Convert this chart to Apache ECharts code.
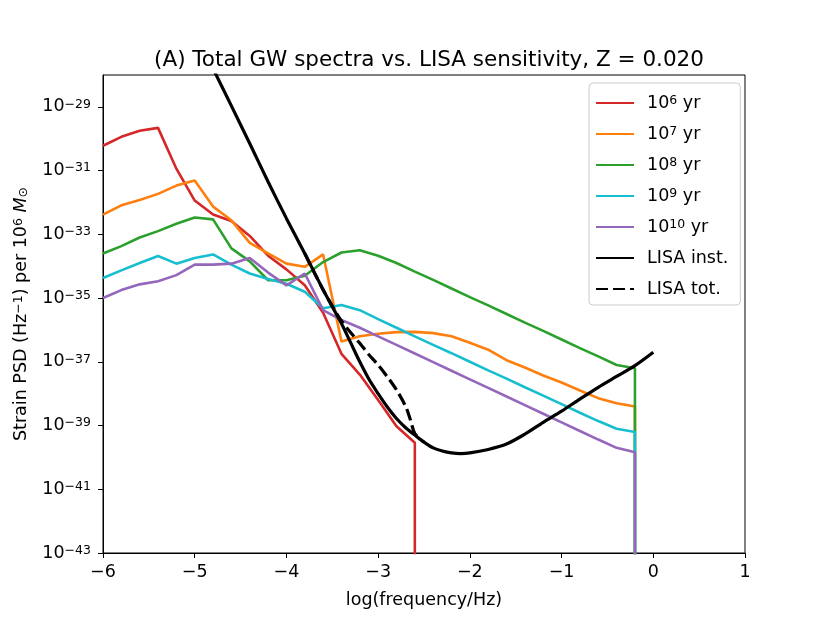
<!DOCTYPE html>
<html>
<head>
<meta charset="utf-8">
<script src="https://cdn.jsdelivr.net/npm/echarts@6/dist/echarts.min.js"></script>
<style>
html,body{margin:0;padding:0;background:#fff;}
#chart{width:830px;height:623px;}
</style>
</head>
<body>
<div id="chart"></div>
<script>
// ---- data (log10 values) ----
const FREQ = [-6.0,-5.8,-5.6,-5.4,-5.2,-5.0,-4.8,-4.6,-4.4,-4.2,-4.0,-3.8,-3.6,-3.4,-3.2,-3.0,-2.8,-2.6,-2.4,-2.2,-2.0,-1.8,-1.6,-1.4,-1.2,-1.0,-0.8,-0.6,-0.4,-0.2];
const FLOOR = -50; // spectrum drops to zero (below axis)
const AGE_1E6  = [-30.22,-29.94,-29.75,-29.66,-30.94,-31.94,-32.38,-32.58,-33.05,-33.67,-34.1,-34.6,-35.46,-36.75,-37.4,-38.2,-39.02,-39.54];
const AGE_1E7  = [-32.38,-32.09,-31.92,-31.73,-31.47,-31.31,-32.13,-32.56,-33.27,-33.6,-33.92,-34.02,-33.63,-36.36,-36.2,-36.12,-36.07,-36.06,-36.1,-36.2,-36.4,-36.62,-36.95,-37.18,-37.43,-37.65,-37.9,-38.14,-38.3,-38.4];
const AGE_1E8  = [-33.6,-33.37,-33.1,-32.9,-32.67,-32.47,-32.53,-33.44,-33.85,-34.44,-34.44,-34.3,-33.87,-33.57,-33.5,-33.67,-33.9,-34.17,-34.43,-34.7,-34.97,-35.23,-35.5,-35.77,-36.03,-36.3,-36.57,-36.83,-37.1,-37.2];
const AGE_1E9  = [-34.37,-34.13,-33.9,-33.68,-33.92,-33.74,-33.63,-33.95,-34.23,-34.4,-34.55,-34.8,-35.32,-35.22,-35.38,-35.66,-35.93,-36.2,-36.47,-36.73,-37.0,-37.27,-37.53,-37.8,-38.06,-38.33,-38.6,-38.86,-39.1,-39.2];
const AGE_1E10 = [-35.0,-34.75,-34.57,-34.47,-34.28,-33.95,-33.95,-33.92,-33.74,-34.2,-34.6,-34.23,-35.38,-35.69,-35.93,-36.2,-36.47,-36.74,-37.01,-37.28,-37.55,-37.82,-38.09,-38.36,-38.63,-38.9,-39.17,-39.44,-39.7,-39.84];
const LISA_F    = [-4.8,-4.6,-4.4,-4.2,-4.0,-3.8,-3.6,-3.5,-3.4,-3.3,-3.2,-3.1,-3.0,-2.9,-2.8,-2.7,-2.6,-2.5,-2.4,-2.3,-2.2,-2.1,-2.0,-1.8,-1.6,-1.4,-1.2,-1.0,-0.8,-0.6,-0.4,-0.2,0.0];
const LISA_INST = [-27.8,-28.97,-30.15,-31.35,-32.5,-33.6,-34.74,-35.27,-35.8,-36.4,-37.0,-37.55,-38.0,-38.42,-38.78,-39.07,-39.3,-39.52,-39.7,-39.8,-39.86,-39.88,-39.86,-39.75,-39.58,-39.27,-38.9,-38.55,-38.17,-37.8,-37.46,-37.12,-36.7];
const LISA_TOT_F = [-3.8,-3.7,-3.6,-3.5,-3.4,-3.3,-3.2,-3.1,-3.0,-2.9,-2.8,-2.7,-2.65,-2.6,-2.5];
const LISA_TOT   = [-33.6,-34.18,-34.74,-35.25,-35.72,-36.08,-36.42,-36.78,-37.1,-37.47,-37.88,-38.4,-38.8,-39.25,-39.52];
const X_TICKS = [-6,-5,-4,-3,-2,-1,0,1];
const Y_TICKS = [-43,-41,-39,-37,-35,-33,-31,-29];
const SERIES_NAMES = ['1e6','1e7','1e8','1e9','1e10','LISA inst.','LISA tot.'];
const LEGEND_EXP = {'1e6':'6','1e7':'7','1e8':'8','1e9':'9','1e10':'10'};

const FONT = 'DejaVu Sans';
const FS = 17.5, SUP = 12.5;
function pairs(xs, ys, dropToFloor) {
  const out = ys.map((y, i) => [xs[i], y]);
  if (dropToFloor) out.push([xs[ys.length - 1], FLOOR]);
  return out;
}
const minus = v => (v < 0 ? '\u2212' + Math.abs(v) : String(v));
const richBase = {
  b: {fontFamily: FONT, fontSize: FS, color: '#000', lineHeight: 18},
  s: {fontFamily: FONT, fontSize: SUP, color: '#000', lineHeight: 7, verticalAlign: 'top'},
  i: {fontFamily: FONT, fontSize: FS, color: '#000', lineHeight: 18, fontStyle: 'italic'},
  o: {fontFamily: FONT, fontSize: SUP, color: '#000', lineHeight: 8, verticalAlign: 'bottom'}
};

const chart = echarts.init(document.getElementById('chart'), null, {renderer: 'canvas'});
const colors = ['#d62728','#ff7f0e','#2ca02c','#17becf','#9467bd','#000000','#000000'];
const ageData = [AGE_1E6, AGE_1E7, AGE_1E8, AGE_1E9, AGE_1E10];

const series = ageData.map((vals, k) => ({
  name: SERIES_NAMES[k],
  type: 'line',
  data: pairs(FREQ, vals, true),
  symbol: 'none',
  clip: true,
  lineStyle: {color: colors[k], width: 2.6},
  itemStyle: {color: colors[k]},
  z: 2 + k
}));
series.push({
  name: 'LISA inst.', type: 'line', data: pairs(LISA_F, LISA_INST, false),
  symbol: 'none', clip: true, smooth: 0.3,
  lineStyle: {color: '#000', width: 3.2}, itemStyle: {color: '#000'}, z: 8
});
series.push({
  name: 'LISA tot.', type: 'line', data: pairs(LISA_TOT_F, LISA_TOT, false),
  symbol: 'none', clip: true, smooth: 0.3,
  lineStyle: {color: '#000', width: 3.2, type: [12, 5]}, itemStyle: {color: '#000'}, z: 9
});

chart.setOption({
  animation: false,
  backgroundColor: '#fff',
  title: {
    text: '(A) Total GW spectra vs. LISA sensitivity, Z = 0.020',
    left: 424, top: 44, textAlign: 'center',
    textStyle: {fontFamily: FONT, fontSize: 21.5, fontWeight: 'normal', color: '#000'}
  },
  grid: {left: 103, right: 85, top: 75, bottom: 70, show: true, borderColor: '#000', borderWidth: 1, backgroundColor: 'transparent'},
  legend: {
    orient: 'vertical', left: 589, top: 83,
    data: SERIES_NAMES,
    itemWidth: 38, itemHeight: 18, itemGap: 13,
    padding: [11, 12, 7, 6],
    borderColor: '#cccccc', borderWidth: 1, borderRadius: 4,
    backgroundColor: 'rgba(255,255,255,0.8)',
    itemStyle: {color: 'rgba(0,0,0,0)', borderColor: 'rgba(0,0,0,0)', borderWidth: 0, opacity: 0},
    formatter: function (name) {
      if (LEGEND_EXP[name]) return '{b|10}{s|' + LEGEND_EXP[name] + '}{b| yr}';
      return '{b|' + name + '}';
    },
    textStyle: {fontFamily: FONT, fontSize: FS, color: '#000', padding: [0, 0, 0, 8], rich: richBase}
  },
  xAxis: {
    type: 'value', min: -6, max: 1, interval: 1,
    name: 'log(frequency/Hz)', nameLocation: 'middle', nameGap: 38,
    nameTextStyle: {fontFamily: FONT, fontSize: FS, color: '#000'},
    axisLine: {show: true, onZero: false, lineStyle: {color: '#000', width: 1}},
    axisTick: {show: true, length: 5, lineStyle: {color: '#000'}},
    axisLabel: {fontFamily: FONT, fontSize: FS, color: '#000', margin: 10,
      customValues: X_TICKS, formatter: v => minus(v)},
    splitLine: {show: false}
  },
  yAxis: {
    type: 'value', min: -43, max: -28,
    name: '{b|Strain PSD (Hz}{s|\u22121}{b|) per 10}{s|6}{b| }{i|M}{o|\u2299}',
    nameLocation: 'middle', nameGap: 73, nameRotate: 90,
    nameTextStyle: {fontFamily: FONT, fontSize: FS, color: '#000', rich: richBase},
    axisLine: {show: true, onZero: false, lineStyle: {color: '#000', width: 1}},
    axisTick: {show: true, length: 5, lineStyle: {color: '#000'}, customValues: Y_TICKS},
    axisLabel: {fontFamily: FONT, fontSize: FS, color: '#000', margin: 12,
      customValues: Y_TICKS,
      formatter: v => '{b|10}{s|' + minus(v) + '}',
      rich: richBase},
    splitLine: {show: false}
  },
  series: series
});
</script>
</body>
</html>
